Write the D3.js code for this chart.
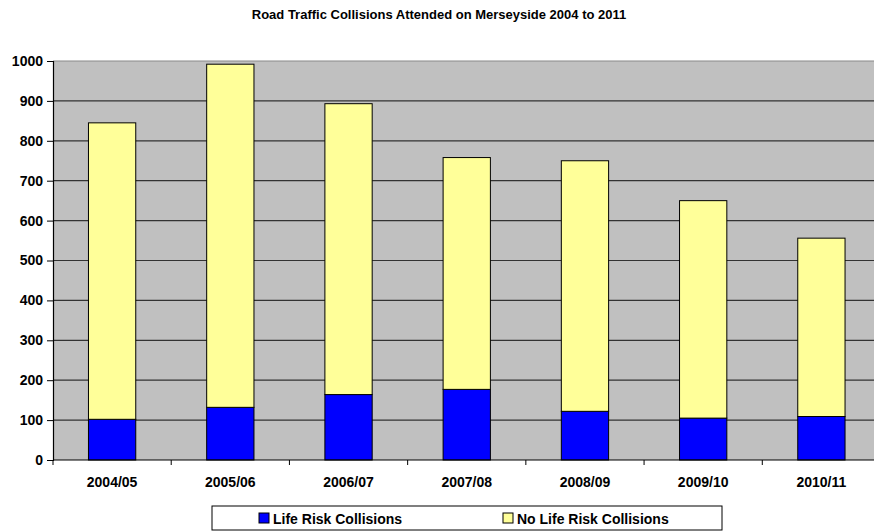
<!DOCTYPE html>
<html>
<head>
<meta charset="utf-8">
<script src="https://cdn.jsdelivr.net/npm/d3@7"></script>
<style>
  body { margin: 0; background: #fff; }
  svg text { font-family: Arial, "Liberation Sans", sans-serif; font-weight: bold; fill: #000; }
</style>
</head>
<body>
<div class="grafico"></div>
<script>
/* Datos */
const years = ['2004/05', '2005/06', '2006/07', '2007/08', '2008/09', '2009/10', '2010/11'];
const lifeRisk = [102, 132, 164, 177, 122, 105, 109];
const noLifeRisk = [743, 860, 729, 581, 628, 545, 447];
const yTicks = [0, 100, 200, 300, 400, 500, 600, 700, 800, 900, 1000];
const seriesNames = ['Life Risk Collisions', 'No Life Risk Collisions'];
const seriesColors = ['#0000ff', '#ffff99'];

const w = 874;
const h = 531;
const plot = { left: 53, right: 880.5, top: 61, bottom: 460 };

const svg = d3.select('.grafico')
  .append('svg')
  .attr('width', w)
  .attr('height', h);

/* Título */
svg.append('text')
  .attr('x', 439)
  .attr('y', 19)
  .attr('text-anchor', 'middle')
  .style('font-size', '13px')
  .text('Road Traffic Collisions Attended on Merseyside 2004 to 2011');

/* Escalas */
const x = d3.scaleBand()
  .domain(years)
  .range([plot.left, plot.right])
  .paddingInner(0.6)
  .paddingOuter(0.3);

const step = x.step();

const y = d3.scaleLinear()
  .domain([0, 1000])
  .range([plot.bottom, plot.top]);

/* Fondo del área de gráfico */
svg.append('rect')
  .attr('x', plot.left)
  .attr('y', plot.top)
  .attr('width', plot.right - plot.left)
  .attr('height', plot.bottom - plot.top)
  .attr('fill', '#c0c0c0');

/* Líneas de cuadrícula */
svg.append('g')
  .selectAll('line')
  .data(yTicks.slice(1))
  .join('line')
  .attr('x1', plot.left)
  .attr('x2', plot.right)
  .attr('y1', d => y(d))
  .attr('y2', d => y(d))
  .attr('stroke', d => d === 1000 ? '#8a8a8a' : '#333')
  .attr('stroke-width', 1.2);

/* Barras apiladas */
const rows = years.map((yr, i) => ({ year: yr, life: lifeRisk[i], noLife: noLifeRisk[i] }));
const stack = d3.stack().keys(['life', 'noLife'])(rows);

svg.append('g')
  .selectAll('g')
  .data(stack)
  .join('g')
  .attr('fill', (d, i) => seriesColors[i])
  .selectAll('rect')
  .data(d => d)
  .join('rect')
  .attr('x', d => x(d.data.year))
  .attr('y', d => y(d[1]))
  .attr('width', x.bandwidth())
  .attr('height', d => y(d[0]) - y(d[1]))
  .attr('stroke', '#000')
  .attr('stroke-width', 1);

/* Eje Y */
const yAxis = svg.append('g')
  .attr('transform', `translate(${plot.left},0)`)
  .call(d3.axisLeft(y).tickValues(yTicks).tickFormat(d3.format('d')).tickSize(6).tickPadding(4));
yAxis.select('.domain').attr('stroke', '#000').attr('stroke-width', 1.2);
yAxis.selectAll('.tick line').attr('stroke', '#000');
yAxis.selectAll('.tick text')
  .style('font-size', '14px')
  .style('font-family', 'Arial, "Liberation Sans", sans-serif')
  .style('font-weight', 'bold');

/* Eje X */
svg.append('line')
  .attr('x1', plot.left)
  .attr('x2', plot.right)
  .attr('y1', plot.bottom)
  .attr('y2', plot.bottom)
  .attr('stroke', '#000')
  .attr('stroke-width', 1.2);

svg.append('g')
  .selectAll('line')
  .data(d3.range(years.length + 1))
  .join('line')
  .attr('x1', i => plot.left + i * step)
  .attr('x2', i => plot.left + i * step)
  .attr('y1', plot.bottom)
  .attr('y2', plot.bottom + 5)
  .attr('stroke', '#000');

svg.append('g')
  .selectAll('text')
  .data(years)
  .join('text')
  .attr('x', d => x(d) + x.bandwidth() / 2)
  .attr('y', 487)
  .attr('text-anchor', 'middle')
  .style('font-size', '14px')
  .text(d => d);

/* Leyenda */
const legend = svg.append('g');
legend.append('rect')
  .attr('x', 212)
  .attr('y', 506)
  .attr('width', 510)
  .attr('height', 24)
  .attr('fill', '#fff')
  .attr('stroke', '#000')
  .attr('stroke-width', 1);

const legendX = [259, 503];
const items = legend.selectAll('g.item')
  .data(seriesNames)
  .join('g')
  .attr('class', 'item')
  .attr('transform', (d, i) => `translate(${legendX[i]},513)`);

items.append('rect')
  .attr('width', 10)
  .attr('height', 10)
  .attr('fill', (d, i) => seriesColors[i])
  .attr('stroke', '#000');

items.append('text')
  .attr('x', 14)
  .attr('y', 10.5)
  .style('font-size', '14px')
  .text(d => d);
</script>
</body>
</html>
